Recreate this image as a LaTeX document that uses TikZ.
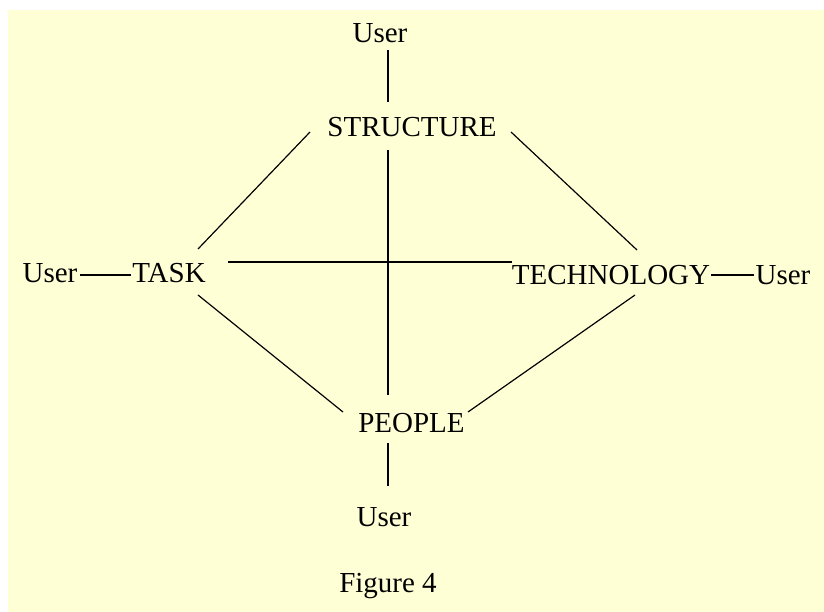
\documentclass[tikz,border=0pt]{standalone}
\usepackage{fontspec}
\setmainfont{Liberation Serif}
\definecolor{paper}{HTML}{FFFFD6}
\tikzset{
  lbl/.style={inner sep=0pt, anchor=base, font=\fontsize{29}{34}\selectfont},
  link/.style={draw=black, line width=1.2pt}
}
\begin{document}
\begin{tikzpicture}[x=1pt, y=-1pt]
  % page and paper
  \useasboundingbox (0,0) rectangle (824,612);
  \fill[white] (0,0) rectangle (824,612);
  \fill[paper] (8,10) rectangle (824,612);

  % labels
  \node[lbl] (uTop)   at (380,43)  {User};
  \node[lbl] (struct) at (412,137) {STRUCTURE};
  \node[lbl] (uLeft)  at (50,283)  {User};
  \node[lbl] (task)   at (169,283) {TASK};
  \node[lbl] (tech)   at (611,284) {TECHNOLOGY};
  \node[lbl] (uRight) at (783,284) {User};
  \node[lbl] (people) at (411.5,432) {PEOPLE};
  \node[lbl] (uBot)   at (384,526) {User};
  \node[lbl] (fig)    at (388,592) {Figure 4};

  % user links
  \draw[link] ([xshift=8pt,yshift=-7pt]uTop.base) -- ([xshift=-24pt,yshift=35pt]struct.base);
  \draw[link] ([xshift=-23.5pt,yshift=-11pt]people.base) -- ([xshift=4pt,yshift=40pt]uBot.base);
  \draw[link] ([xshift=2pt,yshift=8pt]uLeft.base east) -- ([xshift=-1pt,yshift=8pt]task.base west);
  \draw[link] ([xshift=1pt,yshift=9pt]tech.base east) -- ([xshift=-1pt,yshift=9pt]uRight.base west);

  % cross
  \draw[link] ([xshift=-24pt,yshift=-13pt]struct.base) -- ([xshift=-23.5pt,yshift=37pt]people.base);
  \draw[link] ([xshift=22pt,yshift=21pt]task.base east) -- ([yshift=22pt]tech.base west);

  % diamond
  \draw[link] ([xshift=-102pt,yshift=5pt]struct.base) -- ([xshift=29pt,yshift=34pt]task.base);
  \draw[link] ([xshift=99pt,yshift=5pt]struct.base) -- ([xshift=26pt,yshift=34pt]tech.base);
  \draw[link] ([xshift=29pt,yshift=-12pt]task.base) -- ([xshift=-68.5pt,yshift=20pt]people.base);
  \draw[link] ([xshift=24pt,yshift=-11pt]tech.base) -- ([xshift=56.5pt,yshift=20pt]people.base);
\end{tikzpicture}
\end{document}
